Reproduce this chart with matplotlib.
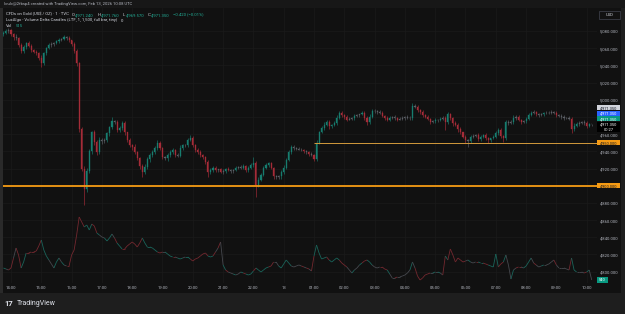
import numpy as np
import matplotlib
matplotlib.use("Agg")
import matplotlib.pyplot as plt
from matplotlib.collections import LineCollection
from matplotlib.patches import Rectangle
from matplotlib.transforms import blended_transform_factory
from matplotlib.offsetbox import TextArea, HPacker, AnnotationBbox

plt.rcParams['font.family'] = ['Roboto', 'DejaVu Sans']

# --- data (5-minute candles) ---
hour_labels = ["14:00", "15:00", "16:00", "17:00", "18:00", "19:00", "20:00",
               "21:00", "22:00", "13", "01:00", "02:00", "03:00", "04:00",
               "05:00", "06:00", "07:00", "08:00", "09:00", "10:00"]

first_open = 5076.0
closes = [
    5078, 5080, 5081, 5076, 5073, 5072, 5064, 5057, 5061, 5066, 5063, 5058,
    5056, 5054, 5049, 5043, 5054, 5060, 5064, 5065, 5066, 5068, 5070, 5071,
    5073, 5072, 5069, 5065, 5057, 5043, 4966, 4920, 4896, 4917, 4940, 4962,
    4951, 4939, 4953, 4952, 4953, 4961, 4968, 4975, 4974, 4965, 4967, 4973,
    4962, 4953, 4947, 4945, 4939, 4932, 4923, 4916, 4922, 4931, 4936, 4939,
    4944, 4950, 4944, 4933, 4932, 4936, 4939, 4942, 4936, 4935, 4944, 4947,
    4947, 4953, 4956, 4947, 4942, 4939, 4936, 4933, 4928, 4916, 4918, 4921,
    4918, 4919, 4916, 4917, 4920, 4918, 4917, 4918, 4921, 4922, 4921, 4923,
    4918, 4921, 4924, 4927, 4901, 4907, 4913, 4921, 4924, 4926, 4921, 4911,
    4910, 4911, 4916, 4921, 4930, 4939, 4945, 4944, 4943, 4942, 4942, 4940,
    4939, 4937, 4936, 4931, 4950, 4962, 4967, 4971, 4974, 4969, 4971, 4973,
    4979, 4985, 4982, 4980, 4977, 4978, 4979, 4981, 4982, 4983, 4985, 4979,
    4974, 4980, 4987, 4987, 4986, 4985, 4981, 4979, 4977, 4979, 4980, 4979,
    4977, 4978, 4979, 4980, 4979, 4979, 4993, 4992, 4988, 4986, 4982, 4980,
    4978, 4974, 4975, 4977, 4976, 4978, 4979, 4974, 4983, 4979, 4973, 4971,
    4966, 4962, 4957, 4953, 4952, 4957, 4958, 4959, 4954, 4957, 4959, 4955,
    4953, 4955, 4957, 4961, 4965, 4958, 4955, 4974, 4973, 4974, 4979, 4980,
    4977, 4974, 4975, 4978, 4982, 4985, 4986, 4983, 4982, 4983, 4985, 4985,
    4985, 4986, 4985, 4982, 4981, 4980, 4979, 4979, 4978, 4966, 4970, 4972,
    4973, 4974, 4973, 4969, 4972, 4971.35,
]
wick_up = [
    2, 2, 3, 1, 2, 3, 1, 2, 3, 1, 2, 2,
    1, 2, 2, 3, 2, 1, 2, 2, 1, 2, 2, 1,
    2, 1, 2, 1, 2, 2, 1, 2, 3, 4, 3, 2,
    3, 2, 4, 2, 3, 2, 2, 5, 2, 3, 2, 2,
    2, 1, 2, 2, 3, 1, 2, 2, 3, 2, 2, 3,
    2, 3, 2, 1, 2, 2, 3, 2, 1, 2, 3, 2,
    2, 2, 3, 2, 1, 2, 2, 1, 2, 2, 3, 2,
    2, 1, 2, 2, 1, 2, 1, 2, 2, 1, 2, 2,
    1, 2, 2, 6, 2, 3, 2, 2, 3, 2, 2, 1,
    2, 2, 2, 3, 2, 3, 2, 2, 1, 2, 2, 1,
    2, 1, 2, 1, 3, 2, 2, 3, 2, 2, 1, 2,
    3, 2, 2, 1, 2, 2, 1, 2, 2, 1, 2, 2,
    2, 3, 2, 2, 1, 2, 2, 1, 2, 2, 1, 2,
    1, 2, 2, 1, 2, 2, 3, 2, 2, 1, 2, 2,
    2, 1, 2, 2, 1, 2, 2, 2, 3, 2, 1, 2,
    2, 2, 1, 2, 1, 2, 2, 1, 2, 2, 1, 2,
    2, 1, 2, 3, 2, 2, 1, 3, 2, 2, 3, 2,
    2, 1, 2, 2, 3, 2, 2, 1, 2, 2, 1, 2,
    2, 2, 1, 2, 1, 2, 2, 1, 2, 2, 3, 2,
    2, 1, 2, 2, 1, 0.4,
]
wick_dn = [
    2, 1, 2, 2, 3, 2, 2, 3, 2, 2, 1, 2,
    2, 2, 3, 5, 2, 2, 1, 2, 2, 1, 2, 2,
    1, 2, 2, 2, 3, 4, 3, 3, 19, 3, 2, 3,
    4, 3, 2, 3, 2, 2, 3, 2, 2, 3, 2, 2,
    3, 2, 2, 3, 2, 2, 3, 6, 2, 2, 3, 2,
    2, 2, 3, 2, 2, 3, 2, 2, 3, 2, 2, 2,
    2, 2, 1, 2, 3, 2, 2, 2, 3, 6, 2, 2,
    2, 2, 1, 2, 2, 1, 2, 2, 1, 2, 2, 1,
    2, 2, 1, 2, 14, 3, 2, 2, 1, 2, 2, 3,
    2, 2, 3, 2, 2, 1, 2, 2, 2, 1, 2, 2,
    2, 2, 1, 2, 2, 2, 1, 2, 2, 3, 2, 2,
    2, 1, 2, 2, 2, 1, 2, 2, 1, 2, 1, 3,
    3, 2, 1, 2, 2, 2, 1, 2, 2, 2, 1, 2,
    2, 1, 2, 2, 1, 2, 2, 1, 2, 2, 2, 1,
    2, 2, 1, 2, 2, 1, 2, 9, 2, 2, 3, 2,
    3, 2, 2, 3, 7, 2, 2, 1, 2, 2, 2, 2,
    3, 2, 1, 2, 2, 3, 4, 2, 2, 1, 2, 2,
    2, 2, 1, 2, 2, 1, 2, 2, 2, 1, 2, 2,
    2, 1, 2, 2, 1, 2, 2, 1, 2, 5, 2, 2,
    2, 1, 2, 2, 1, 1.8,
]
volumes = [
    2700, 2520, 2340, 2700, 4500, 6300, 5040, 2700, 3780, 5400, 5400, 5580,
    5580, 5760, 6660, 7740, 5940, 4860, 4140, 3420, 2700, 3780, 4500, 3780,
    3240, 3060, 3060, 5040, 5940, 8640, 11880, 10980, 10080, 10440, 9540, 10620,
    10260, 9000, 8640, 8280, 8100, 7560, 8100, 8820, 8100, 7200, 6660, 6120,
    6120, 6660, 7020, 7380, 7020, 6480, 7200, 8100, 7200, 6480, 6480, 6300,
    5940, 5580, 5400, 5580, 5580, 5220, 4860, 4680, 4680, 4500, 4320, 4500,
    4680, 4680, 4320, 3960, 4320, 4500, 4860, 5220, 5400, 4860, 4680, 4860,
    5580, 6300, 7380, 3240, 2340, 1980, 1800, 1620, 1440, 1620, 1980, 1800,
    1620, 1440, 1620, 2160, 2700, 2340, 1980, 2340, 2700, 2880, 3060, 3780,
    3780, 3060, 2700, 3420, 4140, 3600, 3060, 2880, 3060, 3240, 3060, 2880,
    2700, 2520, 2160, 4860, 6840, 5400, 4320, 4500, 4680, 4140, 3780, 4140,
    4500, 4140, 3600, 3240, 2880, 2340, 1800, 2340, 2700, 3240, 3600, 3960,
    4140, 3780, 3240, 2880, 2700, 2880, 2880, 2520, 2340, 1620, 900, 900,
    1080, 1080, 1260, 1440, 1800, 2340, 3780, 2700, 1260, 540, 900, 1440,
    1620, 1800, 1800, 1980, 1980, 1800, 1440, 4860, 4140, 6120, 5040, 3780,
    4500, 4140, 3780, 3960, 4140, 3780, 3600, 3780, 3780, 3600, 3600, 3420,
    3240, 3060, 2880, 5220, 2880, 3420, 3780, 5040, 3240, 720, 2340, 2700,
    2880, 2880, 2700, 3060, 3780, 4500, 3600, 3240, 2880, 3060, 3240, 3240,
    3420, 3780, 4140, 3240, 2700, 2700, 2700, 2520, 2340, 4500, 2340, 1980,
    1980, 1980, 1800, 1980, 2340, 540,
]
last_price = 4971.35
last_volume = 540
key_levels = [4900, 4950]
price_ticks = list(range(4800, 5081, 20))

# --- colours ---
PANE = '#111111'
OUTER = '#1e1e1e'
TXT = '#b2b5be'
UP = '#177d6f'
DN = '#a52c38'
FLAT = '#5c5f66'
TEAL = '#22ab94'
ORANGE = '#f59b14'

W, H = 625, 314


def fx(px):
    return px / W


def fy(py):
    return 1 - py / H


fig = plt.figure(figsize=(W / 100, H / 100), dpi=100, facecolor=OUTER)
fig.add_artist(Rectangle((0, fy(293)), fx(3), fy(8) - fy(293), transform=fig.transFigure,
                         facecolor='#2a2a2a', lw=0, zorder=0))
fig.add_artist(Rectangle((fx(3), fy(293)), fx(621) - fx(3), fy(8) - fy(293),
                         transform=fig.transFigure, facecolor=PANE, lw=0, zorder=0))
fig.add_artist(Rectangle((0, fy(8)), 1, fy(0) - fy(8), transform=fig.transFigure,
                         facecolor='#171717', lw=0, zorder=0))

ax = fig.add_axes([fx(3), fy(283), fx(597) - fx(3), fy(8) - fy(283)])
ax.set_facecolor(PANE)
ax.set_xlim(-0.264, 19.34)
ax.set_ylim(4786.8, 5106.8)
ppx = (5106.8 - 4786.8) / 275.0   # price units per pixel

n = len(closes)
t = -0.25 + np.arange(n) / 12.0
c = np.array(closes, dtype=float)
o = np.r_[first_open, c[:-1]]
hi = np.maximum(o, c) + np.array(wick_up)
lo = np.minimum(o, c) - np.array(wick_dn)
d = c - o
cols = np.where(d > 1, UP, np.where(d < -1, DN, FLAT))

# volume overlay on a hidden twin axis
ax2 = ax.twinx()
ax2.set_ylim(0, 275 * 180)
ax2.yaxis.set_visible(False)
for s in ax2.spines.values():
    s.set_visible(False)
vc = np.where(d > 1, '#1a645a', np.where(d < -1, '#73282f', '#46484e'))
pts = np.column_stack([t, volumes])
segs = np.stack([pts[:-1], pts[1:]], axis=1)
ax2.add_collection(LineCollection(segs, colors=vc[1:], linewidths=0.6))

ax.vlines(t, lo, hi, colors=cols, lw=0.45, zorder=3)
ax.bar(t, d, bottom=o, width=0.035, color=cols, edgecolor=cols, lw=0.25, zorder=3)

ax.axhline(key_levels[0], color=ORANGE, lw=1.3, zorder=4)
ax.hlines(key_levels[1], 10.0, 19.34, color='#d39a3c', lw=0.7, zorder=4)

ax.set_xticks(range(len(hour_labels)))
ax.set_xticklabels(hour_labels)
ax.set_yticks(price_ticks)
ax.set_yticklabels(['' if v in (4980, 4900) else f"{v:,.3f}" for v in price_ticks])
ax.yaxis.tick_right()
ax.tick_params(axis='x', length=0, pad=2.0, labelsize=3.0, labelcolor=TXT)
ax.tick_params(axis='y', length=0, pad=2.2, labelsize=3.0, labelcolor=TXT)
ax.grid(True, color='#1a1a1a', lw=0.5)
ax.set_axisbelow(True)
for s in ax.spines.values():
    s.set_visible(False)

# right-hand price tags
bt = blended_transform_factory(ax.transAxes, ax.transData)
tag_w = 23.0 / 594.0


def tag(y, h_px, fc, lines, tc, trans=bt, unit=ppx, w=tag_w):
    ax.add_patch(Rectangle((1.0, y - h_px * unit / 2), w, h_px * unit, transform=trans,
                           facecolor=fc, lw=0, clip_on=False, zorder=6))
    step = 5.6 * unit
    top = y + (len(lines) - 1) * step / 2
    for i, s in enumerate(lines):
        ax.text(1.0 + w / 2, top - i * step, s, transform=trans, ha='center', va='center',
                fontsize=2.9, color=tc, clip_on=False, zorder=7)


lp = f"{last_price:,.3f}"
tag(last_price + 16.7 * ppx, 5.0, '#d1d4dc', [lp], '#131722')
tag(last_price + 11.1 * ppx, 5.0, '#2962ff', [lp], 'white')
tag(last_price + 5.5 * ppx, 5.0, '#089981', [lp], 'white')
ax.add_patch(Rectangle((1.0, last_price - 7.3 * ppx), tag_w, 9.7 * ppx, transform=bt,
                       facecolor='#000000', lw=0, clip_on=False, zorder=6))
ax.text(1.0 + tag_w / 2, last_price, lp, transform=bt, ha='center', va='center',
        fontsize=2.9, color='white', clip_on=False, zorder=7)
ax.text(1.0 + tag_w / 2, last_price - 5.6 * ppx, "00:27", transform=bt, ha='center',
        va='center', fontsize=2.9, color='white', clip_on=False, zorder=7)
for lvl in key_levels:
    tag(lvl, 5.0, ORANGE, [f"{lvl:,.3f}"], '#131722')
bt2 = blended_transform_factory(ax.transAxes, ax2.transData)
ax2.add_patch(Rectangle((1.0, last_volume - 2.6 * 180), 11.0 / 594, 5.3 * 180, transform=bt2,
                        facecolor='#089981', lw=0, clip_on=False, zorder=6))
ax2.text(1.0 + 5.5 / 594, last_volume, str(last_volume), transform=bt2, ha='center',
         va='center', fontsize=2.9, color='white', clip_on=False, zorder=7)

# USD box
fig.add_artist(Rectangle((fx(599), fy(19)), fx(620) - fx(599), fy(11) - fy(19),
                         transform=fig.transFigure, facecolor=PANE, edgecolor='#434651', lw=0.5))
fig.text(fx(609.5), fy(15), "USD", ha='center', va='center', fontsize=3.0, color='#d1d4dc')

# header and legend
fig.text(fx(4), fy(4.5), "loulc@2fbsp4 created with TradingView.com, Feb 13, 2026 10:08 UTC",
         fontsize=3.0, color=TXT, va='center')


def legend_row(parts, y, x=5.5, sep=2.5):
    groups = []
    for grp in parts:
        boxes = [TextArea(s, textprops=dict(color=col, fontsize=3.1)) for s, col in grp]
        groups.append(HPacker(children=boxes, pad=0, sep=0.3))
    row = HPacker(children=groups, pad=0, sep=sep)
    ab = AnnotationBbox(row, (fx(x), fy(y)), xycoords='figure fraction', box_alignment=(0, 0.5),
                        frameon=False, pad=0)
    fig.add_artist(ab)


LT = '#d1d4dc'
legend_row([[("CFDs on Gold (US$ / OZ) · 1 · TVC", LT)],
            [("O", LT), ("4,971.240", TEAL)], [("H", LT), ("4,971.760", TEAL)],
            [("L", LT), ("4,969.570", TEAL)], [("C", LT), ("4,971.350", TEAL)],
            [("−0.420 (−0.01%)", TEAL)]], 14.5)
legend_row([[("LuxAlgo - Volume Delta Candles (LTF, 1, 1,500, full bar, tiny)", LT)],
            [("0", LT)]], 20.5)
legend_row([[("Vol", LT)], [("515", TEAL)]], 26.0)

# footer logo
fig.text(fx(4), fy(303.5), "17", fontsize=5.5, fontweight='bold', color='#e0e3eb', va='center')
fig.text(fx(17), fy(303.5), "TradingView", fontsize=5.0, color='#e0e3eb', va='center')

fig.savefig("out.png", dpi=100, facecolor=OUTER)
